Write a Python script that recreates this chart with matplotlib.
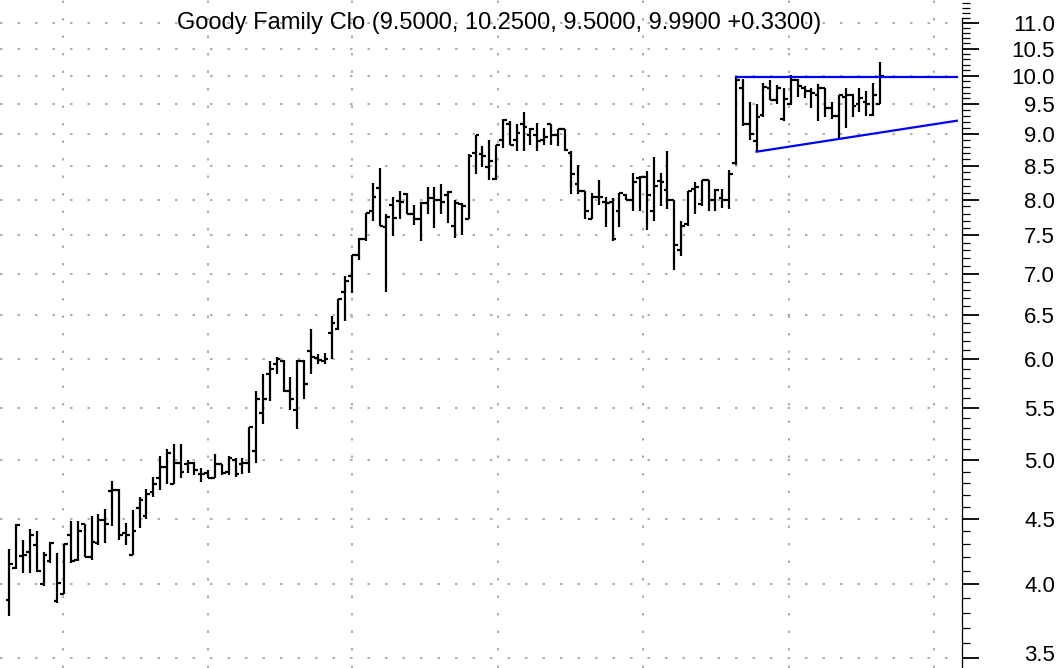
import numpy as np
import matplotlib
matplotlib.use('Agg')
import matplotlib.pyplot as plt
import matplotlib.transforms as mtransforms
from matplotlib.ticker import FixedLocator, FormatStrFormatter

plt.rcParams['font.family'] = ['Liberation Sans', 'DejaVu Sans']
plt.rcParams['lines.scale_dashes'] = False

# daily OHLC, Goody Family Clothing
opens = [3.89, 4.12, 4.21, 4.24, 4.29, 4.00, 4.17, 3.88, 3.93, 4.37,
         4.18, 4.46, 4.20, 4.31, 4.49, 4.73, 4.74, 4.39, 4.22, 4.59,
         4.52, 4.72, 4.84, 4.94, 4.79, 4.98, 4.97, 4.98, 4.88, 4.89,
         4.84, 4.97, 4.90, 5.00, 4.97, 4.98, 5.09, 5.45, 5.84, 5.95,
         5.98, 5.67, 5.48, 5.98, 6.09, 6.01, 5.98, 6.29, 6.34, 6.77,
         6.97, 7.24, 7.45, 7.84, 8.17, 7.61, 7.92, 7.98, 8.08, 7.79,
         7.73, 7.95, 8.02, 7.99, 8.06, 7.63, 7.93, 7.73, 8.70, 8.68,
         8.49, 8.30, 8.90, 9.17, 8.90, 9.17, 8.99, 8.99, 8.90, 9.17,
         8.99, 9.08, 8.70, 8.23, 8.12, 7.73, 8.03, 7.97, 7.96, 7.84,
         8.07, 8.00, 8.32, 8.33, 7.84, 8.27, 8.14, 7.99, 7.30, 7.66,
         8.16, 7.93, 8.29, 7.99, 8.02, 7.99, 8.54, 9.78, 9.16, 8.89,
         9.31, 9.78, 9.57, 9.25, 9.51, 9.92, 9.78, 9.72, 9.66, 9.78,
         9.44, 9.30, 9.63, 9.65, 9.50, 9.54, 9.31, 9.50]
highs = [4.26, 4.46, 4.33, 4.42, 4.40, 4.24, 4.32, 4.23, 4.30, 4.48,
         4.48, 4.46, 4.52, 4.54, 4.58, 4.82, 4.75, 4.47, 4.57, 4.68,
         4.75, 4.85, 5.04, 5.10, 5.15, 5.15, 5.00, 4.99, 4.93, 4.91,
         5.06, 4.97, 5.04, 5.02, 5.02, 5.31, 5.67, 5.84, 5.98, 6.02,
         5.99, 5.81, 5.99, 5.99, 6.34, 6.06, 6.07, 6.49, 6.69, 6.97,
         7.24, 7.47, 7.81, 8.24, 8.47, 7.79, 8.04, 8.12, 8.09, 7.92,
         7.97, 8.18, 8.18, 8.23, 8.12, 7.99, 7.95, 8.68, 8.99, 8.81,
         8.90, 8.83, 9.25, 9.22, 9.16, 9.37, 9.10, 9.19, 9.10, 9.17,
         9.08, 9.08, 8.73, 8.52, 8.12, 8.09, 8.29, 8.04, 8.02, 8.09,
         8.08, 8.39, 8.34, 8.42, 8.63, 8.39, 8.73, 7.99, 7.70, 8.13,
         8.26, 8.29, 8.29, 8.16, 8.16, 8.43, 9.98, 9.94, 9.54, 9.51,
         9.87, 9.92, 9.84, 9.78, 10.01, 9.94, 9.81, 9.78, 9.85, 9.78,
         9.54, 9.66, 9.78, 9.67, 9.78, 9.72, 9.87, 10.25]
lows = [3.78, 4.11, 4.08, 4.08, 4.09, 3.99, 4.16, 3.87, 3.93, 4.16,
        4.17, 4.20, 4.18, 4.29, 4.31, 4.44, 4.33, 4.29, 4.22, 4.43,
        4.50, 4.68, 4.74, 4.79, 4.79, 4.84, 4.89, 4.87, 4.81, 4.84,
        4.84, 4.87, 4.87, 4.85, 4.88, 4.89, 4.98, 5.34, 5.56, 5.84,
        5.66, 5.48, 5.29, 5.58, 5.84, 5.95, 5.95, 6.00, 6.32, 6.43,
        6.76, 7.17, 7.43, 7.70, 7.63, 6.77, 7.49, 7.72, 7.79, 7.64,
        7.42, 7.79, 7.60, 7.79, 7.67, 7.47, 7.51, 7.72, 8.37, 8.49,
        8.28, 8.29, 8.78, 8.82, 8.73, 8.73, 8.82, 8.73, 8.82, 8.83,
        8.81, 8.73, 8.08, 8.08, 7.73, 7.72, 7.92, 7.61, 7.43, 7.61,
        7.99, 7.83, 7.83, 7.57, 7.70, 7.91, 7.86, 7.04, 7.22, 7.63,
        7.80, 7.90, 7.83, 7.83, 7.88, 7.87, 8.52, 9.13, 8.91, 8.72,
        9.28, 9.57, 9.51, 9.22, 9.48, 9.63, 9.60, 9.43, 9.22, 9.28,
        9.25, 8.93, 9.10, 9.28, 9.37, 9.30, 9.30, 9.50]
closes = [4.15, 4.45, 4.22, 4.37, 4.10, 4.22, 4.31, 4.01, 4.30, 4.17,
          4.40, 4.20, 4.32, 4.49, 4.46, 4.74, 4.37, 4.37, 4.40, 4.66,
          4.71, 4.79, 4.94, 5.07, 4.98, 4.90, 4.98, 4.91, 4.88, 4.84,
          4.97, 4.89, 5.02, 4.88, 4.98, 5.31, 5.58, 5.58, 5.90, 6.00,
          5.67, 5.58, 5.98, 5.74, 6.02, 5.99, 6.00, 6.41, 6.69, 6.91,
          7.24, 7.45, 7.81, 8.03, 7.63, 7.75, 7.74, 7.97, 7.79, 7.73,
          7.95, 8.02, 7.99, 7.97, 8.11, 7.95, 7.91, 8.65, 8.98, 8.66,
          8.57, 8.83, 9.23, 8.83, 9.02, 9.12, 9.08, 8.89, 8.95, 8.98,
          9.08, 8.75, 8.38, 8.12, 7.84, 8.03, 8.04, 7.95, 7.45, 8.09,
          8.00, 8.26, 8.33, 8.07, 8.19, 8.26, 7.99, 7.37, 7.63, 8.12,
          8.18, 8.29, 7.99, 8.14, 8.00, 8.37, 9.92, 9.16, 9.01, 9.28,
          9.79, 9.57, 9.78, 9.59, 9.92, 9.81, 9.72, 9.69, 9.78, 9.44,
          9.30, 9.65, 9.66, 9.47, 9.61, 9.51, 9.66, 9.99]

# ascending triangle lines (bar index, price)
upper_x = [106, 138.2]
upper_y = [9.98, 9.98]
lower_x = [109, 138.2]
lower_y = [8.72, 9.22]

month_lines = [7.8, 29.0, 50.0, 71.3, 92.4, 113.7, 134.9]

title = 'Goody Family Clo (9.5000, 10.2500, 9.5000, 9.9900 +0.3300)'

x = np.arange(len(closes))
w = 0.55

fig = plt.figure(figsize=(10.61, 6.68), dpi=100)
ax = fig.add_axes([0, 0, 962 / 1061, 1.0])

ax.vlines(x, lows, highs, color='black', linewidth=1.6)
ax.hlines(opens, x - w, x, color='black', linewidth=1.6)
ax.hlines(closes, x, x + w, color='black', linewidth=1.6)

ax.plot(upper_x, upper_y, color='#0000ff', linewidth=1.6)
ax.plot(lower_x, lower_y, color='#0000ff', linewidth=1.6)

ax.set_yscale('log')
ax.set_ylim(3.44, 11.46)
ax.set_xlim(-1.36, 138.96)

grid_style = dict(color='#b0b0b0', linewidth=1.5, linestyle=(0, (1.8, 10.8)))
for v in np.arange(3.5, 11.51, 0.5):
    ax.axhline(v, zorder=0, **grid_style)
for m in month_lines:
    ax.axvline(m, zorder=0, **grid_style)

ax.yaxis.tick_right()
ax.yaxis.set_major_locator(FixedLocator(np.arange(3.5, 11.51, 0.5)))
ax.yaxis.set_minor_locator(FixedLocator(np.arange(3.5, 11.51, 0.1)))
ax.yaxis.set_major_formatter(FormatStrFormatter('%.1f'))
ax.yaxis.set_minor_formatter(plt.NullFormatter())
ax.tick_params(axis='y', which='major', length=12, width=1.3, pad=55, labelsize=16)
ax.tick_params(axis='y', which='minor', length=6, width=0.9)
ax.set_xticks([])

fig.canvas.draw()
labels = ax.get_yticklabels()
for lbl in labels:
    lbl.set_horizontalalignment('right')
# lowest label sits right at the bottom edge, lift it a little
labels[0].set_transform(labels[0].get_transform() +
                        mtransforms.ScaledTranslation(0, 5 / 100, fig.dpi_scale_trans))

for s in ['top', 'bottom', 'left']:
    ax.spines[s].set_visible(False)
ax.spines['right'].set_linewidth(0.9)
ax.spines['right'].set_bounds(3.44, 11.1)

fig.text(499 / 1061, 1 - 23 / 668, title, ha='center', va='center', fontsize=17)

plt.savefig('out.png', dpi=100)
